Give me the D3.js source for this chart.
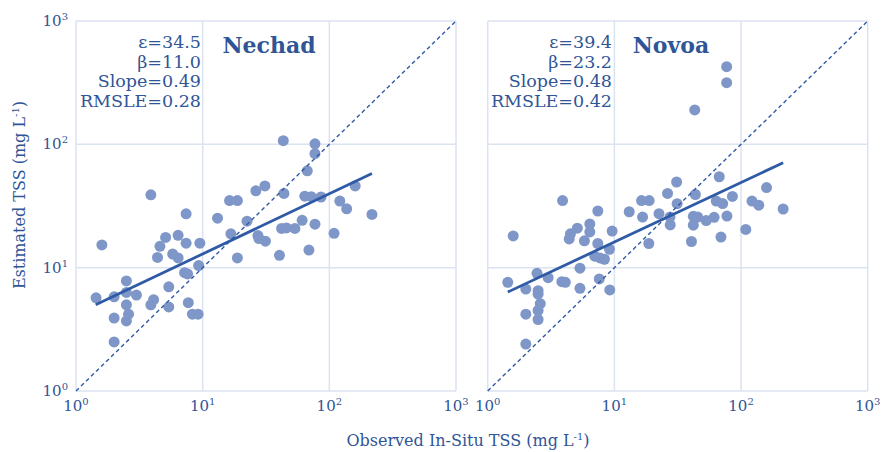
<!DOCTYPE html>
<html>
<head>
<meta charset="utf-8">
<script src="https://cdn.jsdelivr.net/npm/d3@7"></script>
<style>
body { margin: 0; background: #fff; }
svg text { font-family: "DejaVu Serif", Georgia, serif; fill: #2f5597; }
</style>
</head>
<body>
<div id="canvas"></div>
<script>
// ----------------------------------------------------------
// DATA -----------------------------------------------------
// ----------------------------------------------------------

var tick_exponents = [0, 1, 2, 3];

// Nechad: observed (x) and estimated (y) TSS, mg/L
var nechad_observed = [1.44, 1.6, 2.0, 2.0, 2.0, 2.5, 2.5, 2.5, 2.5, 2.6, 3.0, 3.9, 3.9, 4.1, 4.4, 4.6,
  5.1, 5.4, 5.4, 5.8, 6.4, 6.4, 7.2, 7.4, 7.4, 7.6, 7.7, 8.3, 9.2, 9.3, 9.5, 13.1, 16.3, 16.7, 18.8,
  18.8, 22.4, 26.3, 27.3, 27.8, 31, 31.3, 40.4, 42, 43.3, 43.8, 45.9, 53.5, 61, 64, 67, 69, 72, 77,
  77, 77, 86, 109, 121, 137, 160, 217];
var nechad_estimated = [5.7, 15.3, 5.8, 3.9, 2.5, 7.8, 6.3, 5.0, 3.7, 4.2, 6.0, 39, 5.0, 5.5, 12.1, 14.9,
  17.6, 7.0, 4.8, 12.9, 18.3, 12.0, 9.1, 27.3, 15.8, 8.9, 5.2, 4.2, 4.2, 10.4, 15.8, 25.2, 35, 18.8, 35,
  12.0, 23.8, 42, 18.2, 17.2, 46, 16.4, 12.6, 20.8, 107, 40, 21, 20.8, 24.2, 38, 61, 13.9, 37.6, 101,
  84, 22.5, 37.4, 19, 34.7, 30, 46, 27];

// Novoa: observed (x) and estimated (y) TSS, mg/L
var novoa_observed = [1.44, 1.59, 2.0, 2.0, 2.0, 2.45, 2.5, 2.5, 2.6, 2.5, 2.5, 3.0, 3.9, 3.85, 4.1, 4.4,
  4.5, 5.1, 5.35, 5.35, 5.8, 6.4, 6.4, 7.0, 7.7, 8.35, 7.4, 7.4, 7.6, 9.15, 9.2, 9.6, 13.1, 16.4, 18.8,
  16.7, 18.7, 22.5, 26.3, 27.5, 27.6, 31, 31.3, 40.6, 42, 42, 43.1, 43.6, 45.5, 53.1, 61.3, 63.7, 67.3,
  69.4, 71.6, 77, 77, 77.4, 85.5, 109, 122, 138, 159, 215];
var novoa_estimated = [7.6, 18.1, 6.7, 4.2, 2.4, 9.0, 6.5, 6.1, 5.1, 4.5, 3.8, 8.3, 35, 7.7, 7.6, 17.1,
  18.8, 20.9, 9.9, 6.8, 16.5, 22.6, 19.5, 12.4, 12.0, 11.7, 28.8, 15.7, 8.1, 14.1, 6.6, 19.8, 28.4, 35,
  35, 25.7, 15.7, 27.4, 40, 25.8, 22.2, 49.5, 33, 16.3, 26.1, 22.1, 190, 39.2, 25.7, 24.1, 25.6, 34.7,
  54.6, 17.7, 33.1, 426, 316, 26.2, 37.8, 20.4, 34.7, 32.1, 44.6, 29.9];

// regression line end points (observed, estimated)
var nechad_fit_observed = [1.43, 217];
var nechad_fit_estimated = [5.0, 58];
var novoa_fit_observed = [1.44, 215];
var novoa_fit_estimated = [6.34, 71];

var panel_names = ["Nechad", "Novoa"];
var nechad_stats = ["\u03b5=34.5", "\u03b2=11.0", "Slope=0.49", "RMSLE=0.28"];
var novoa_stats = ["\u03b5=39.4", "\u03b2=23.2", "Slope=0.48", "RMSLE=0.42"];

// ----------------------------------------------------------
// STRUCTURE ------------------------------------------------
// ----------------------------------------------------------

var settings = {
  width: 888,
  height: 452,
  plot_size_x: 380,
  plot_size_y: 370,
  plot_top: 21,
  color_grid: "#dbe2f0",
  color_dot: "#7f97c8",
  color_line: "#2f5aa5",
  color_text: "#2f5597"
};

var panels = [
  { name: panel_names[0], left: 76, title_x: 269, stats_x: 201, stats: nechad_stats,
    obs: nechad_observed, est: nechad_estimated, fit_obs: nechad_fit_observed, fit_est: nechad_fit_estimated, y_labels: true },
  { name: panel_names[1], left: 487.7, title_x: 671, stats_x: 612, stats: novoa_stats,
    obs: novoa_observed, est: novoa_estimated, fit_obs: novoa_fit_observed, fit_est: novoa_fit_estimated, y_labels: false }
];

var container = d3.select("#canvas").append("svg")
  .attr("width", settings.width)
  .attr("height", settings.height)
  .style("background-color", "#fff");

var xScale = d3.scaleLog().domain([1, 1000]).range([0, settings.plot_size_x]);
var yScale = d3.scaleLog().domain([1, 1000]).range([settings.plot_size_y, 0]);
var ticks = tick_exponents.map(function (e) { return Math.pow(10, e); });

// ----------------------------------------------------------
// GFX ------------------------------------------------------
// ----------------------------------------------------------

panels.forEach(function (p) {
  var g = container.append("g")
    .attr("class", "panel")
    .attr("transform", `translate(${p.left}, ${settings.plot_top})`);

  // grid lines (also the frame)
  g.selectAll(".grid_x").data(ticks).enter().append("line")
    .attr("x1", function (d) { return xScale(d); })
    .attr("x2", function (d) { return xScale(d); })
    .attr("y1", 0).attr("y2", settings.plot_size_y)
    .style("stroke", settings.color_grid).style("stroke-width", 1.5);
  g.selectAll(".grid_y").data(ticks).enter().append("line")
    .attr("y1", function (d) { return yScale(d); })
    .attr("y2", function (d) { return yScale(d); })
    .attr("x1", 0).attr("x2", settings.plot_size_x)
    .style("stroke", settings.color_grid).style("stroke-width", 1.5);

  // x tick labels
  var xl = g.selectAll(".x_label").data(tick_exponents).enter().append("text")
    .attr("x", function (d) { return xScale(Math.pow(10, d)); })
    .attr("y", 391 - settings.plot_top + 20)
    .attr("text-anchor", "middle")
    .style("font-size", "15px");
  xl.append("tspan").text("10");
  xl.append("tspan").attr("dy", -6).style("font-size", "10px").text(function (d) { return d; });

  // y tick labels
  if (p.y_labels) {
    var yl = g.selectAll(".y_label").data(tick_exponents).enter().append("text")
      .attr("x", -8)
      .attr("y", function (d) { return yScale(Math.pow(10, d)) + 5; })
      .attr("text-anchor", "end")
      .style("font-size", "15px");
    yl.append("tspan").text("10");
    yl.append("tspan").attr("dy", -6).style("font-size", "10px").text(function (d) { return d; });
  }

  // points
  g.selectAll(".dot").data(p.obs).enter().append("circle")
    .attr("cx", function (d) { return xScale(d); })
    .attr("cy", function (d, i) { return yScale(p.est[i]); })
    .attr("r", 5.5)
    .style("fill", settings.color_dot);

  // 1:1 line
  g.append("line")
    .attr("x1", xScale(1)).attr("y1", yScale(1))
    .attr("x2", xScale(1000)).attr("y2", yScale(1000))
    .style("stroke", settings.color_line)
    .style("stroke-width", 1.4)
    .style("stroke-dasharray", "4,3");

  // regression line
  g.append("path")
    .datum(p.fit_obs.map(function (d, i) { return [d, p.fit_est[i]]; }))
    .attr("d", d3.line().x(function (d) { return xScale(d[0]); }).y(function (d) { return yScale(d[1]); }))
    .style("stroke", settings.color_line)
    .style("stroke-width", 2.8)
    .style("fill", "none");

  // title
  g.append("text")
    .attr("x", p.title_x - p.left)
    .attr("y", 53 - settings.plot_top)
    .attr("text-anchor", "middle")
    .style("font-size", "22px")
    .style("font-weight", "bold")
    .text(p.name);

  // stats
  g.selectAll(".stat").data(p.stats).enter().append("text")
    .attr("x", p.stats_x - p.left)
    .attr("y", function (d, i) { return 27 + i * 19.5; })
    .attr("text-anchor", "end")
    .style("font-size", "17.5px")
    .text(function (d) { return d; });
});

// ----------------------------------------------------------
// TEXT -----------------------------------------------------
// ----------------------------------------------------------

var x_title = container.append("text")
  .attr("x", 468)
  .attr("y", 446)
  .attr("text-anchor", "middle")
  .style("font-size", "16px");
x_title.append("tspan").text("Observed In-Situ TSS (mg L");
x_title.append("tspan").attr("dy", -6).style("font-size", "10px").text("-1");
x_title.append("tspan").attr("dy", 6).text(")");

var y_title = container.append("text")
  .attr("transform", "translate(25, 195) rotate(-90)")
  .attr("text-anchor", "middle")
  .style("font-size", "16px");
y_title.append("tspan").text("Estimated TSS (mg L");
y_title.append("tspan").attr("dy", -6).style("font-size", "10px").text("-1");
y_title.append("tspan").attr("dy", 6).text(")");
</script>
</body>
</html>
